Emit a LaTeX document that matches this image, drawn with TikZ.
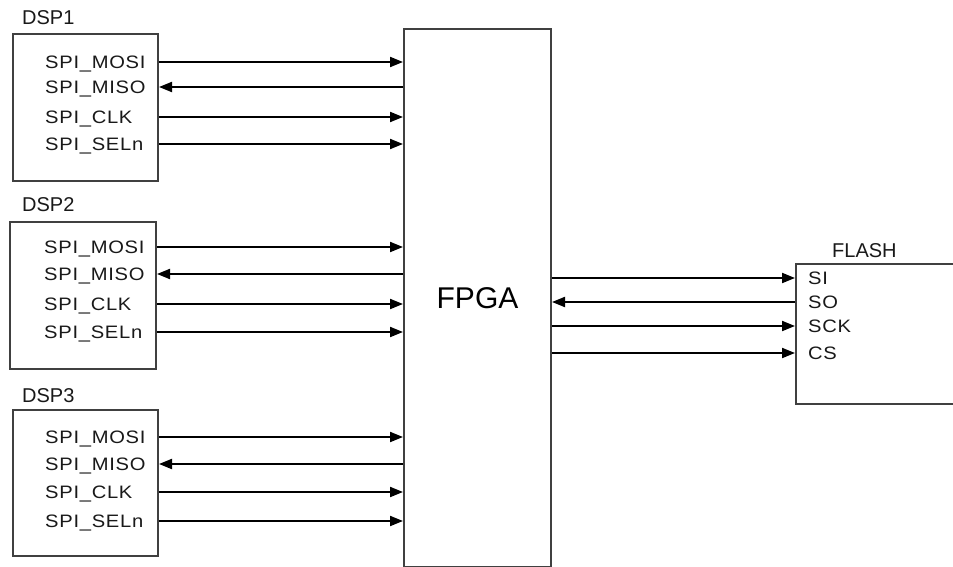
\documentclass[tikz,border=0pt]{standalone}
\usepackage{fontspec}
\setmainfont{Liberation Sans}
\newfontfamily\pinfont{Liberation Sans}[FakeStretch=1.12,LetterSpace=4]
\usetikzlibrary{arrows.meta}
\tikzset{
  box/.style={draw=black!75, line width=2pt, anchor=north west, inner sep=0pt},
  pin/.style={font=\pinfont\fontsize{18}{22}\selectfont, anchor=west, inner sep=0pt, text height=13pt, text depth=0pt, text=black!90},
  title/.style={font=\fontsize{20}{24}\selectfont, anchor=west, inner sep=0pt, text height=14pt, text depth=0pt, text=black!90},
  sig/.style={-{Triangle[length=13pt,width=10pt]}, line width=2pt}
}
\begin{document}
\begin{tikzpicture}[x=1pt,y=-1pt]
\useasboundingbox (0,0) rectangle (953,567);
\clip (0,0) rectangle (953,567);
\fill[white] (0,0) rectangle (953,567);

% FPGA and FLASH
\node[box, minimum width=147pt, minimum height=538pt] (fpga) at (403,28) {};
\node[font=\fontsize{30}{36}\selectfont] at (fpga.center) {FPGA};
\node[box, minimum width=220pt, minimum height=140pt] (flash) at (795,263) {};
\node[title] (flashname) at (832,250) {FLASH};

% DSP1
\node[box, minimum width=145pt, minimum height=147pt] (dsp1) at (12,33) {};
\node[title] (dsp1name) at (22,18) {DSP1};
\node[pin] (d1mosi) at (45,62) {SPI\_MOSI};
\node[pin] (d1miso) at (45,87) {SPI\_MISO};
\node[pin] (d1clk) at (45,117) {SPI\_CLK};
\node[pin] (d1sel) at (45,144) {SPI\_SELn};
\draw[sig] (d1mosi -| dsp1.east) -- (d1mosi -| fpga.west);
\draw[sig] (d1miso -| fpga.west) -- (d1miso -| dsp1.east);
\draw[sig] (d1clk -| dsp1.east) -- (d1clk -| fpga.west);
\draw[sig] (d1sel -| dsp1.east) -- (d1sel -| fpga.west);

% DSP2
\node[box, minimum width=146pt, minimum height=147pt] (dsp2) at (9,221) {};
\node[title] (dsp2name) at (22,204) {DSP2};
\node[pin] (d2mosi) at (44,247) {SPI\_MOSI};
\node[pin] (d2miso) at (44,274) {SPI\_MISO};
\node[pin] (d2clk) at (44,304) {SPI\_CLK};
\node[pin] (d2sel) at (44,332) {SPI\_SELn};
\draw[sig] (d2mosi -| dsp2.east) -- (d2mosi -| fpga.west);
\draw[sig] (d2miso -| fpga.west) -- (d2miso -| dsp2.east);
\draw[sig] (d2clk -| dsp2.east) -- (d2clk -| fpga.west);
\draw[sig] (d2sel -| dsp2.east) -- (d2sel -| fpga.west);

% DSP3
\node[box, minimum width=145pt, minimum height=146pt] (dsp3) at (12,409) {};
\node[title] (dsp3name) at (22,395) {DSP3};
\node[pin] (d3mosi) at (45,437) {SPI\_MOSI};
\node[pin] (d3miso) at (45,464) {SPI\_MISO};
\node[pin] (d3clk) at (45,492) {SPI\_CLK};
\node[pin] (d3sel) at (45,521) {SPI\_SELn};
\draw[sig] (d3mosi -| dsp3.east) -- (d3mosi -| fpga.west);
\draw[sig] (d3miso -| fpga.west) -- (d3miso -| dsp3.east);
\draw[sig] (d3clk -| dsp3.east) -- (d3clk -| fpga.west);
\draw[sig] (d3sel -| dsp3.east) -- (d3sel -| fpga.west);

% FLASH pins
\node[pin] (fsi) at (808,278) {SI};
\node[pin] (fso) at (808,302) {SO};
\node[pin] (fsck) at (808,326) {SCK};
\node[pin] (fcs) at (808,353) {CS};
\draw[sig] (fsi -| fpga.east) -- (fsi -| flash.west);
\draw[sig] (fso -| flash.west) -- (fso -| fpga.east);
\draw[sig] (fsck -| fpga.east) -- (fsck -| flash.west);
\draw[sig] (fcs -| fpga.east) -- (fcs -| flash.west);

\end{tikzpicture}
\end{document}
